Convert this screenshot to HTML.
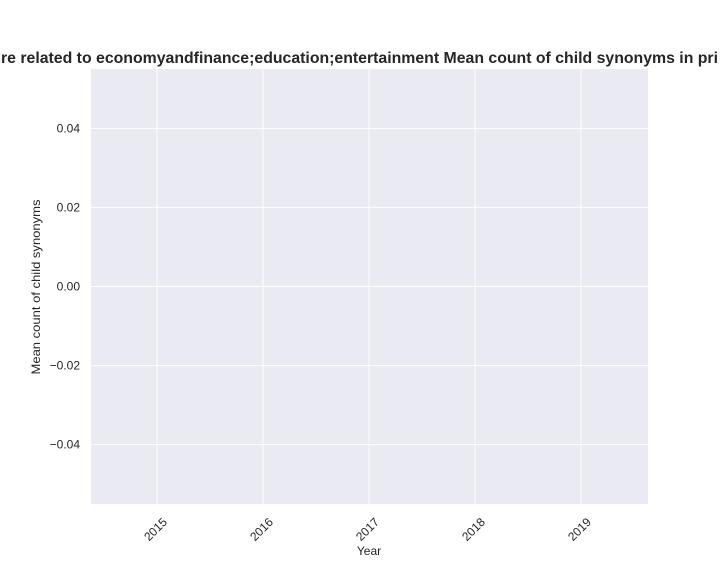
<!DOCTYPE html>
<html><head><meta charset="utf-8"><style>
body{margin:0;background:#fff;}
svg{display:block;font-family:"Liberation Sans","DejaVu Sans",sans-serif;}
</style></head><body>
<svg id="chart" width="720" height="576">
<text x="1" y="63" font-size="16" font-weight="bold" fill="#262626" textLength="717" lengthAdjust="spacingAndGlyphs">re related to economyandfinance;education;entertainment Mean count of child synonyms in pri</text>
<rect x="91" y="69" width="557" height="435" fill="#eaeaf2"/>
<g id="grid"></g>
<g id="axes"></g>
<text x="369" y="555" font-size="12" text-anchor="middle" fill="#262626">Year</text>
<text transform="translate(40,287) rotate(-90)" font-size="12" text-anchor="middle" fill="#262626" textLength="175" lengthAdjust="spacingAndGlyphs">Mean count of child synonyms</text>
</svg>
<script>
const xTicks=[2015,2016,2017,2018,2019];
const yTicks=[0.04,0.02,0.00,-0.02,-0.04];
const yTickLabels=["0.04","0.02","0.00","\u22120.02","\u22120.04"];
const xDomain=[2014.377,2019.632];
const yDomain=[-0.055,0.055];
const L=91,R=648,T=69,B=504;
function xs(v){return L+(v-xDomain[0])/(xDomain[1]-xDomain[0])*(R-L);}
function ys(v){return B-(v-yDomain[0])/(yDomain[1]-yDomain[0])*(B-T);}
const ns="http://www.w3.org/2000/svg";
const grid=document.getElementById('grid'),axes=document.getElementById('axes');
xTicks.forEach(t=>{
 const x=xs(t);
 const l=document.createElementNS(ns,'line');
 l.setAttribute('x1',x);l.setAttribute('x2',x);l.setAttribute('y1',T);l.setAttribute('y2',B);
 l.setAttribute('stroke','#fff');l.setAttribute('stroke-width','1');
 
 
 grid.appendChild(l);
 const tx=document.createElementNS(ns,'text');
 tx.setAttribute('transform','translate('+(x+4)+',516) rotate(-45)');
 tx.setAttribute('text-anchor','end');tx.setAttribute('font-size','12');tx.setAttribute('fill','#262626');
 tx.setAttribute('dy','0.8em');
 tx.textContent=t;
 
 
 axes.appendChild(tx);
});
yTicks.forEach((t,i)=>{
 const y=ys(t);
 const l=document.createElementNS(ns,'line');
 l.setAttribute('x1',L);l.setAttribute('x2',R);l.setAttribute('y1',y);l.setAttribute('y2',y);
 l.setAttribute('stroke','#fff');l.setAttribute('stroke-width','1');
 
 
 grid.appendChild(l);
 const tx=document.createElementNS(ns,'text');
 tx.setAttribute('x',80);tx.setAttribute('y',y+4);
 tx.setAttribute('text-anchor','end');tx.setAttribute('font-size','12');tx.setAttribute('fill','#262626');
 tx.textContent=yTickLabels[i];
 
 
 axes.appendChild(tx);
});
</script>
</body></html>
